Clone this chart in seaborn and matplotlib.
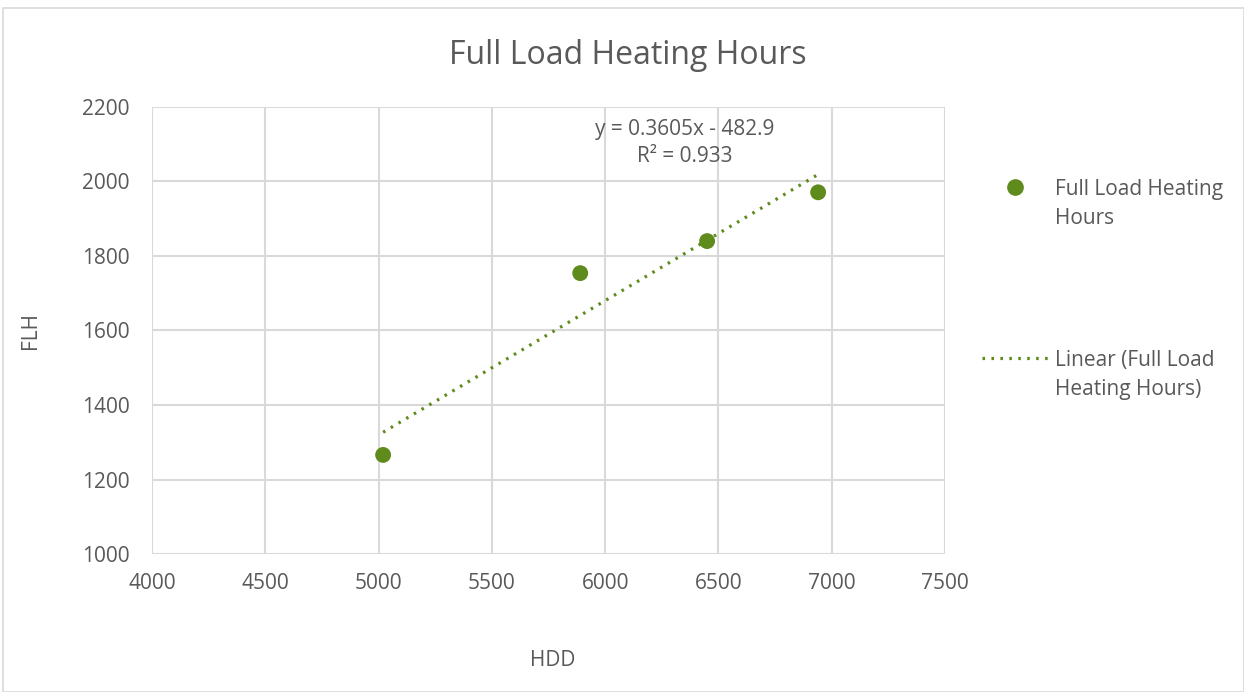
import matplotlib
matplotlib.use("Agg")
import matplotlib.pyplot as plt
import seaborn as sns
import numpy as np
import pandas as pd
from matplotlib.patches import Rectangle
from matplotlib.lines import Line2D
from matplotlib.legend_handler import HandlerLine2D

# Data
hdd = [5020, 5890, 6450, 6940]
flh = [1266, 1754, 1840, 1971]
series_name = "Full Load Heating Hours"
trend_slope = 0.3605
trend_intercept = -482.9
r_squared = 0.933
x_ticks = [4000, 4500, 5000, 5500, 6000, 6500, 7000, 7500]
y_ticks = [1000, 1200, 1400, 1600, 1800, 2000, 2200]

df = pd.DataFrame({"HDD": hdd, "FLH": flh})

sns.set_theme(style="white")
plt.rcParams['font.family'] = ['Open Sans', 'DejaVu Sans']

green = "#5F8B1C"
text_c = "#595959"
grid_c = "#D9D9D9"
fs = 15

fig = plt.figure(figsize=(12.44, 6.92), dpi=100)
fig.patches.append(Rectangle((3/1244, 0), 1 - 3/1244, 1 - 8/692, transform=fig.transFigure,
                             fill=False, edgecolor=grid_c, linewidth=1.2, zorder=0))
ax = fig.add_axes([152/1244, 1 - 554/692, (945 - 152)/1244, (554 - 107)/692])

sns.scatterplot(data=df, x="HDD", y="FLH", ax=ax, color=green, s=130, edgecolor="none",
                zorder=3, label=series_name, legend=False)

xs = np.array([min(hdd), max(hdd)])
dot_style = (0, (0.8, 2.0))
ax.plot(xs, trend_slope * xs + trend_intercept, color=green, linewidth=2.3,
        linestyle=dot_style, zorder=2)

ax.set_xlim(x_ticks[0], x_ticks[-1])
ax.set_ylim(y_ticks[0], y_ticks[-1])
ax.set_xticks(x_ticks)
ax.set_yticks(y_ticks)
ax.grid(True, color=grid_c, linewidth=1.5)
ax.set_axisbelow(True)
for s in ax.spines.values():
    s.set_visible(False)
ax.tick_params(axis="both", length=0, labelsize=fs, colors=text_c)
ax.tick_params(axis="x", pad=14)
ax.tick_params(axis="y", pad=16)
ax.set_xlabel("HDD", fontsize=fs, color=text_c, labelpad=0)
ax.set_ylabel("FLH", fontsize=fs, color=text_c)
ax.xaxis.set_label_coords(0.505, -0.215)
ax.yaxis.set_label_coords(-0.14, 0.5)

ax.text(0.672, 0.92, f"y = {trend_slope}x - {abs(trend_intercept)}\nR² = {r_squared}",
        transform=ax.transAxes, ha="center", va="center", fontsize=fs, color=text_c,
        linespacing=1.38)

fig.text(628/1244, 1 - 55/692, "Full Load Heating Hours", ha="center", va="center",
         fontsize=23, color=text_c)


class RaisedHandler(HandlerLine2D):
    def __init__(self, shift, **kw):
        super().__init__(**kw)
        self.shift = shift

    def create_artists(self, legend, orig_handle, xdescent, ydescent, width, height,
                       fontsize, trans):
        return super().create_artists(legend, orig_handle, xdescent, ydescent - 2 * self.shift,
                                      width, height, fontsize, trans)


h1 = Line2D([], [], marker="o", linestyle="none", color=green, markersize=11)
h2 = Line2D([], [], color=green, linewidth=2.3, linestyle=dot_style)
labels = ["Full Load Heating\nHours", "Linear (Full Load\nHeating Hours)"]
leg = fig.legend([h1, h2], labels, loc="upper left", bbox_to_anchor=(963/1244, 1 - 160/692),
                 frameon=False, fontsize=fs, labelcolor=text_c, labelspacing=5.8,
                 handlelength=3.2, handletextpad=0.33,
                 handler_map={h1: RaisedHandler(12.5), h2: RaisedHandler(12.5)})
for t in leg.get_texts():
    t.set_linespacing(1.5)

fig.savefig("out.png", dpi=100)
